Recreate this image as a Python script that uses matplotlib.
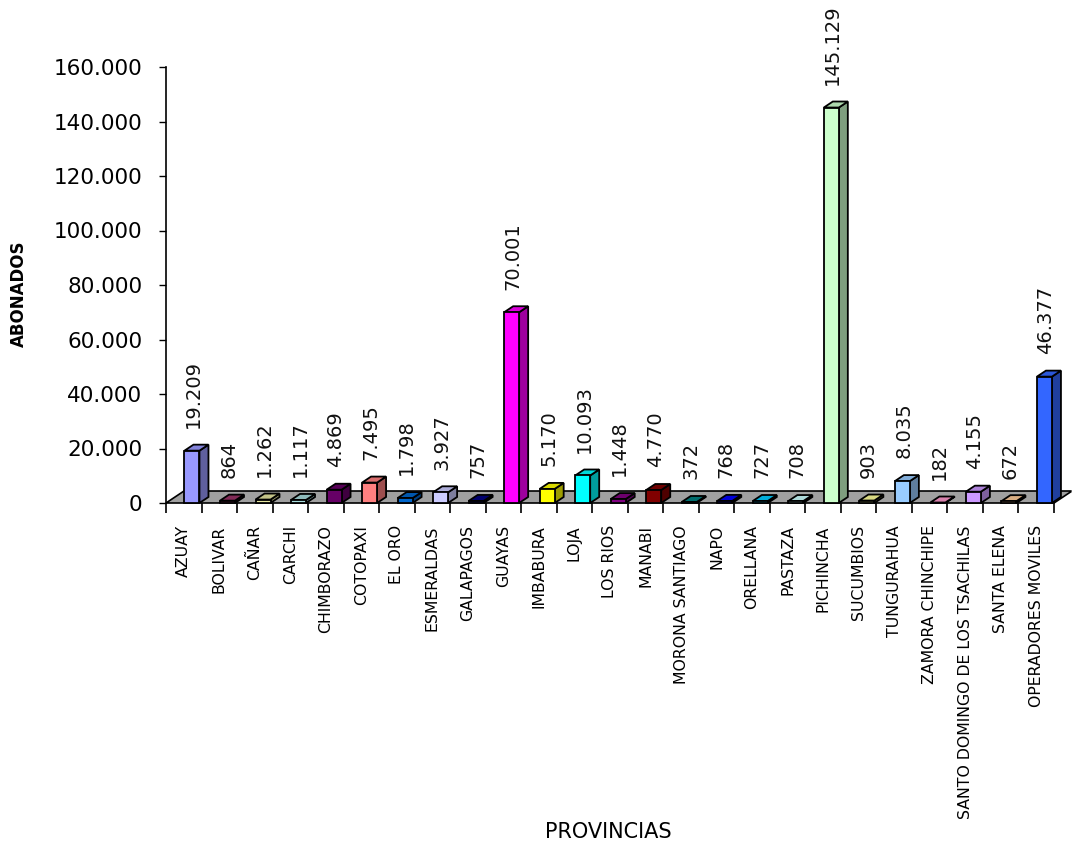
import matplotlib
matplotlib.use("Agg")
import matplotlib.pyplot as plt
from matplotlib.patches import Polygon
from matplotlib.colors import to_rgb
import numpy as np

# data
provincias = ["AZUAY", "BOLIVAR", "CAÑAR", "CARCHI", "CHIMBORAZO", "COTOPAXI",
              "EL ORO", "ESMERALDAS", "GALAPAGOS", "GUAYAS", "IMBABURA", "LOJA",
              "LOS RIOS", "MANABI", "MORONA SANTIAGO", "NAPO", "ORELLANA",
              "PASTAZA", "PICHINCHA", "SUCUMBIOS", "TUNGURAHUA",
              "ZAMORA CHINCHIPE", "SANTO DOMINGO DE LOS TSACHILAS",
              "SANTA ELENA", "OPERADORES MOVILES"]
abonados = [19209, 864, 1262, 1117, 4869, 7495, 1798, 3927, 757, 70001,
            5170, 10093, 1448, 4770, 372, 768, 727, 708, 145129, 903,
            8035, 182, 4155, 672, 46377]
colores = ["#9999FF", "#993366", "#E6E6A0", "#A8DCDC", "#660066", "#FF8080",
           "#0066CC", "#CCCCFF", "#000080", "#FF00FF", "#FFFF00", "#00FFFF",
           "#800080", "#800000", "#008080", "#0000FF", "#00CCFF", "#CCFFFF",
           "#CCFFCC", "#FFFF99", "#99CCFF", "#FF99CC", "#CC99FF", "#FFCC99",
           "#3366FF"]
yticks = [0, 20000, 40000, 60000, 80000, 100000, 120000, 140000, 160000]


def miles(v):
    return "{:,}".format(int(v)).replace(",", ".")


def shade(c, f):
    r, g, b = to_rgb(c)
    return (r * f, g * f, b * f)


fig = plt.figure(figsize=(10.72, 8.44), dpi=100)
ax = fig.add_axes([166 / 1072, 341 / 844, 888 / 1072, 436 / 844])

n = len(provincias)
x = np.arange(n)
ax.set_xlim(-0.5, n - 0.5)
ax.set_ylim(0, 160000)

# pixel -> data conversion for the fake 3D depth
px_x = n / 888.0
px_y = 160000 / 436.0

# floor
fdx, fdy = 18 * px_x, 12 * px_y
floor = Polygon([(-0.5, 0), (n - 0.5, 0), (n - 0.5 + fdx, fdy), (-0.5 + fdx, fdy)],
                closed=True, facecolor="#A0A0A0", edgecolor="black", lw=1.2,
                clip_on=False, zorder=1)
ax.add_patch(floor)
ax.plot([n - 0.5 + fdx, n - 0.5 + fdx + 4 * px_x], [fdy, fdy + 3 * px_y],
        color="#C0C0C0", lw=1, clip_on=False)

# bars (front face from library, top/side faces computed from values)
w = 15 * px_x
bdx, bdy = 9 * px_x, 6 * px_y
left = x + 0.02
ax.bar(left, abonados, width=w, align="edge", color=colores,
       edgecolor="black", lw=1.3, zorder=3, clip_on=False)
for xi, v, c in zip(left, abonados, colores):
    side = Polygon([(xi + w, 0), (xi + w + bdx, bdy), (xi + w + bdx, v + bdy), (xi + w, v)],
                   closed=True, facecolor=shade(c, 0.62), edgecolor="black",
                   lw=1.3, zorder=2.9, clip_on=False)
    top = Polygon([(xi, v), (xi + w, v), (xi + w + bdx, v + bdy), (xi + bdx, v + bdy)],
                  closed=True, facecolor=shade(c, 0.85), edgecolor="black",
                  lw=1.3, zorder=2.9, clip_on=False)
    ax.add_patch(side)
    ax.add_patch(top)
    ax.annotate(miles(v), xy=(xi + 0.25, v + bdy), xytext=(0, 12),
                textcoords="offset points", rotation=90, ha="center",
                va="bottom", fontsize=14, color="#111111")

# axes styling
for s in ["top", "right", "bottom"]:
    ax.spines[s].set_visible(False)
ax.spines["left"].set_linewidth(1.2)
ax.set_yticks(yticks)
ax.set_yticklabels([miles(t) for t in yticks], fontsize=15.5)
ax.tick_params(axis="y", length=5, width=1, pad=12)

ax.set_xticks(x)
ax.set_xticklabels(provincias, rotation=90, fontsize=11.3, va="top")
ax.tick_params(axis="x", length=0, pad=16)
ax.set_xticks(np.arange(n + 1) - 0.5, minor=True)
ax.tick_params(axis="x", which="minor", length=7, width=1.2, direction="out")

ax.set_ylabel("ABONADOS", fontsize=12, fontweight="bold")
ax.yaxis.set_label_coords(-0.155, 0.48)
fig.text(608 / 1072, 1 - 832 / 844, "PROVINCIAS", fontsize=15,
         ha="center", va="center")

fig.savefig("out.png", dpi=100, facecolor="white")
